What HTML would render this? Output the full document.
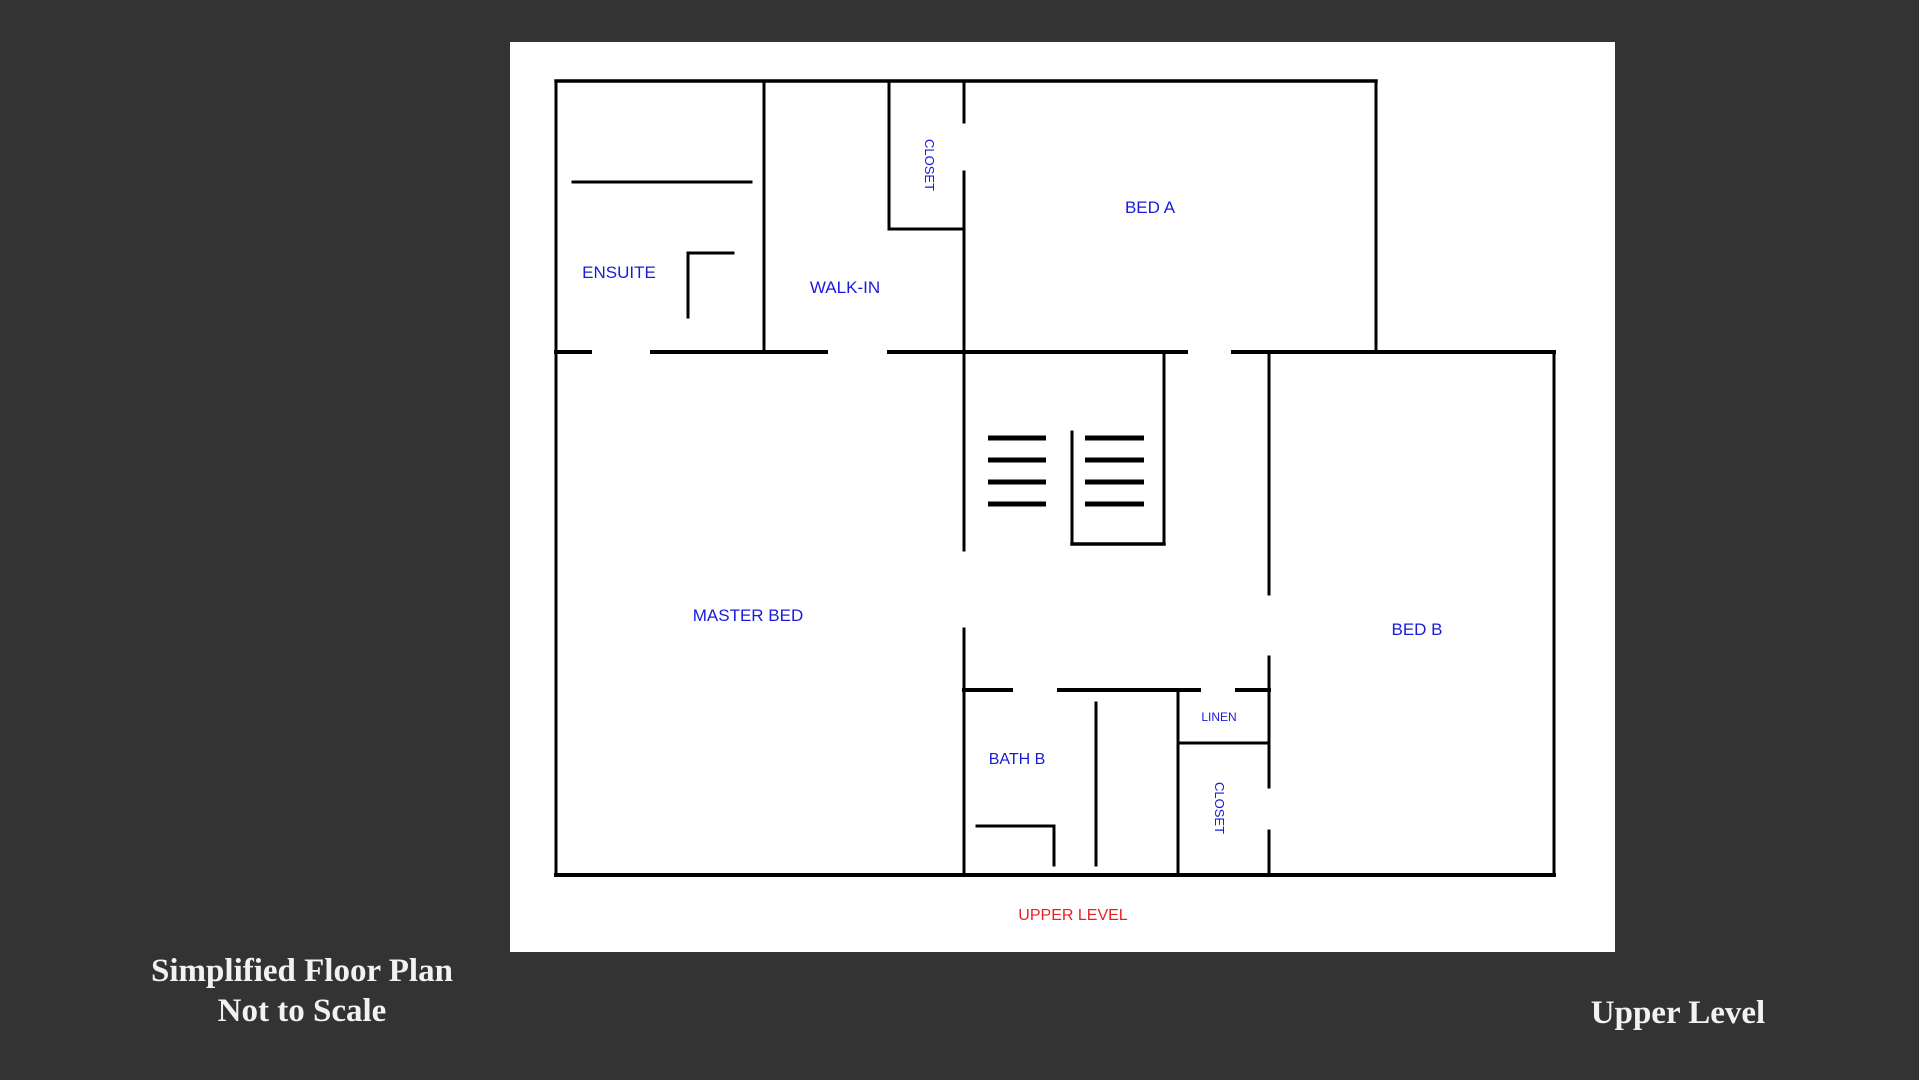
<!DOCTYPE html>
<html><head><meta charset="utf-8"><style>
html,body{margin:0;padding:0;background:#333333;width:1919px;height:1080px;overflow:hidden}
svg{position:absolute;left:0;top:0}
</style></head><body>
<svg width="1919" height="1080" viewBox="0 0 1919 1080" xmlns="http://www.w3.org/2000/svg">
<rect x="0" y="0" width="1919" height="1080" fill="#333333"/>
<rect x="510" y="42" width="1105" height="910" fill="#ffffff"/>
<g stroke="#000" stroke-width="3" fill="none" stroke-linecap="square">
  <line x1="556" y1="81" x2="1376" y2="81" stroke-width="3.5"/>
  <line x1="556" y1="81" x2="556" y2="875"/>
  <line x1="1376" y1="81" x2="1376" y2="352"/>
  <line x1="764" y1="81" x2="764" y2="352"/>
  <line x1="889" y1="81" x2="889" y2="229"/>
  <line x1="889" y1="229" x2="964" y2="229"/>
  <line x1="964" y1="81" x2="964" y2="122"/>
  <line x1="964" y1="172" x2="964" y2="550"/>
  <line x1="573" y1="182" x2="751" y2="182"/>
  <line x1="688" y1="253" x2="688" y2="317"/>
  <line x1="688" y1="253" x2="733" y2="253"/>
  <g stroke-width="4">
    <line x1="556" y1="352" x2="590" y2="352"/>
    <line x1="652" y1="352" x2="826" y2="352"/>
    <line x1="889" y1="352" x2="1186" y2="352"/>
    <line x1="1233" y1="352" x2="1554" y2="352"/>
  </g>
  <line x1="1554" y1="352" x2="1554" y2="875"/>
  <line x1="1269" y1="352" x2="1269" y2="594"/>
  <line x1="1269" y1="657" x2="1269" y2="787"/>
  <line x1="1269" y1="831" x2="1269" y2="875"/>
  <line x1="1164" y1="352" x2="1164" y2="544"/>
  <line x1="1072" y1="544" x2="1164" y2="544" stroke-width="3.5"/>
  <line x1="1072" y1="432" x2="1072" y2="544"/>
  <g stroke-width="5" stroke-linecap="butt">
    <line x1="988" y1="438" x2="1046" y2="438"/>
    <line x1="988" y1="460" x2="1046" y2="460"/>
    <line x1="988" y1="482" x2="1046" y2="482"/>
    <line x1="988" y1="504" x2="1046" y2="504"/>
    <line x1="1085" y1="438" x2="1144" y2="438"/>
    <line x1="1085" y1="460" x2="1144" y2="460"/>
    <line x1="1085" y1="482" x2="1144" y2="482"/>
    <line x1="1085" y1="504" x2="1144" y2="504"/>
  </g>
  <line x1="964" y1="629" x2="964" y2="875"/>
  <g stroke-width="4">
    <line x1="964" y1="690" x2="1011" y2="690"/>
    <line x1="1059" y1="690" x2="1199" y2="690"/>
    <line x1="1237" y1="690" x2="1269" y2="690"/>
  </g>
  <line x1="1178" y1="690" x2="1178" y2="875"/>
  <line x1="1178" y1="743" x2="1269" y2="743"/>
  <line x1="1096" y1="703" x2="1096" y2="865"/>
  <line x1="977" y1="826" x2="1054" y2="826"/>
  <line x1="1054" y1="826" x2="1054" y2="865"/>
  <line x1="556" y1="875" x2="1554" y2="875" stroke-width="4"/>
</g>
<g font-family="Liberation Sans, sans-serif" fill="#1a1adb" text-anchor="middle">
  <text x="619" y="278" font-size="17">ENSUITE</text>
  <text x="845" y="293" font-size="17">WALK-IN</text>
  <text x="1150" y="213" font-size="17">BED A</text>
  <text x="748" y="621" font-size="17">MASTER BED</text>
  <text x="1417" y="635" font-size="17">BED B</text>
  <text x="1017" y="764" font-size="16">BATH B</text>
  <text x="1219" y="721" font-size="12">LINEN</text>
  <text transform="translate(925,165) rotate(90)" font-size="13">CLOSET</text>
  <text transform="translate(1215,808) rotate(90)" font-size="13">CLOSET</text>
</g>
<text x="1073" y="920" font-family="Liberation Sans, sans-serif" font-size="16" fill="#ee1c24" text-anchor="middle">UPPER LEVEL</text>
<g font-family="Liberation Serif, serif" font-weight="bold" font-size="33" fill="#f2f2f2" text-anchor="middle">
  <text x="302" y="981">Simplified Floor Plan</text>
  <text x="302" y="1021">Not to Scale</text>
  <text x="1678" y="1023">Upper Level</text>
</g>
</svg>
</body></html>
